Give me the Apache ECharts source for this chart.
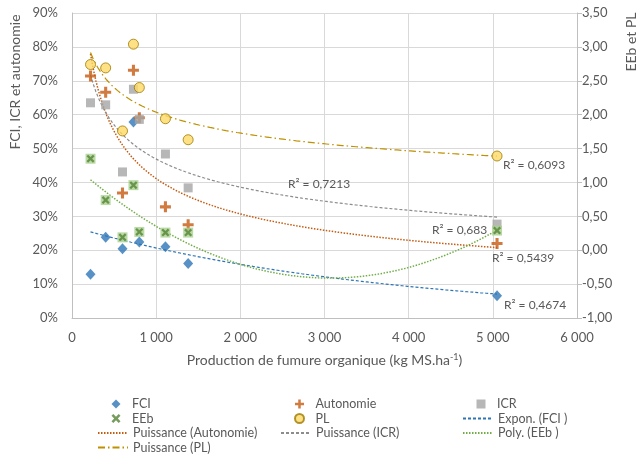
<!DOCTYPE html>
<html>
<head>
<meta charset="utf-8">
<script src="https://cdn.jsdelivr.net/npm/echarts@6/dist/echarts.min.js"></script>
<style>
  html, body { margin: 0; padding: 0; background: #fff; }
  #chart { width: 641px; height: 457px; }
</style>
</head>
<body>
<div id="chart"></div>
<script>
// production de fumure organique (kg MS/ha) for each farm
const production = [220, 400, 600, 730, 800, 1110, 1380, 5050];
// left axis (share)
const fci = [0.129, 0.238, 0.204, 0.578, 0.224, 0.210, 0.161, 0.066];
const autonomie = [0.714, 0.666, 0.369, 0.731, 0.591, 0.328, 0.275, 0.220];
const icr = [0.635, 0.629, 0.431, 0.675, 0.586, 0.484, 0.384, 0.277];
// right axis
const eeb = [1.35, 0.74, 0.19, 0.96, 0.27, 0.26, 0.26, 0.29];
const pl = [2.74, 2.69, 1.76, 3.04, 2.40, 1.94, 1.63, 1.39];

const r2Labels = ['R² = 0,7213', 'R² = 0,6093', 'R² = 0,683', 'R² = 0,5439', 'R² = 0,4674'];

const FONT = 'Lato, "Open Sans", sans-serif';
const TXT = '#595959';

// least squares helpers (same fits as the spreadsheet trendlines)
function linFit(xs, ys) {
    const n = xs.length;
    const mx = xs.reduce((s, v) => s + v, 0) / n;
    const my = ys.reduce((s, v) => s + v, 0) / n;
    let sxy = 0, sxx = 0;
    xs.forEach((x, i) => { sxy += (x - mx) * (ys[i] - my); sxx += (x - mx) * (x - mx); });
    const b = sxy / sxx;
    return [my - b * mx, b];
}
function exponFit(xs, ys) {
    const [a, b] = linFit(xs, ys.map(Math.log));
    return x => Math.exp(a + b * x);
}
function powerFit(xs, ys) {
    const [a, b] = linFit(xs.map(Math.log), ys.map(Math.log));
    return x => Math.exp(a) * Math.pow(x, b);
}
function poly2Fit(xs, ys) {
    // normal equations for y = c0 + c1 x + c2 x^2
    const s = [0, 0, 0, 0, 0], t = [0, 0, 0];
    xs.forEach((x, i) => {
        for (let k = 0; k < 5; k++) s[k] += Math.pow(x, k);
        for (let k = 0; k < 3; k++) t[k] += ys[i] * Math.pow(x, k);
    });
    const m = [[s[0], s[1], s[2], t[0]], [s[1], s[2], s[3], t[1]], [s[2], s[3], s[4], t[2]]];
    for (let i = 0; i < 3; i++) {
        for (let j = i + 1; j < 3; j++) {
            const f = m[j][i] / m[i][i];
            for (let k = i; k < 4; k++) m[j][k] -= f * m[i][k];
        }
    }
    const c = [0, 0, 0];
    for (let i = 2; i >= 0; i--) {
        let v = m[i][3];
        for (let k = i + 1; k < 3; k++) v -= m[i][k] * c[k];
        c[i] = v / m[i][i];
    }
    return x => c[0] + c[1] * x + c[2] * x * x;
}
function curve(fn) {
    const x0 = Math.min(...production), x1 = Math.max(...production);
    const pts = [];
    for (let i = 0; i <= 150; i++) {
        const x = x0 + (x1 - x0) * i / 150;
        pts.push([x, fn(x)]);
    }
    return pts;
}
const pairs = ys => production.map((x, i) => [x, ys[i]]);

const crossPath = 'path://M3.6,0 H6.4 V3.6 H10 V6.4 H6.4 V10 H3.6 V6.4 H0 V3.6 H3.6 Z';
const xPath = 'path://M0,2 L2,0 L5,3 L8,0 L10,2 L7,5 L10,8 L8,10 L5,7 L2,10 L0,8 L3,5 Z';

const chart = echarts.init(document.getElementById('chart'));

const ROW0 = 397, PITCH = 14.5;
const legendText = { fontFamily: FONT, fontSize: 12.5, color: TXT, lineHeight: 14 };

// small legend for marker entries
function markerLegend(left, row, names) {
    return {
        orient: 'vertical', left: left, top: ROW0 + row * PITCH, padding: 0,
        itemWidth: 9, itemHeight: 9, itemGap: 0.5,
        textStyle: Object.assign({ padding: [0, 0, 0, 6.5] }, legendText),
        data: names
    };
}
// wide legend for trendline entries (hide the dot drawn on line icons)
function lineLegend(left, row, names) {
    return {
        orient: 'vertical', left: left, top: ROW0 + row * PITCH, padding: 0,
        itemWidth: 30, itemHeight: 9, itemGap: 0.5,
        textStyle: legendText,
        data: names.map(n => ({ name: n, itemStyle: { opacity: 0 } }))
    };
}

const trendLabel = (text, x, y) => ({
    type: 'text', left: x, top: y, z: 50,
    style: { text: text, fontFamily: FONT, fontSize: 12, fill: TXT }
});

const option = {
    animation: false,
    backgroundColor: '#fff',
    grid: { left: 72, right: 64, top: 13, bottom: 139 },
    legend: [
        markerLegend(111.5, 0, ['FCI', 'EEb']),
        lineLegend(97, 2, ['Puissance (Autonomie)', 'Puissance (PL)']),
        markerLegend(294, 0, ['Autonomie', 'PL']),
        lineLegend(280, 2, ['Puissance (ICR)']),
        markerLegend(476.5, 0, ['ICR']),
        lineLegend(462, 1, ['Expon. (FCI )', 'Poly. (EEb )'])
    ],
    xAxis: {
        type: 'value',
        min: 0, max: 6000, interval: 1000,
        name: 'Production de fumure organique (kg MS.ha{sup|-1})',
        nameLocation: 'middle',
        nameGap: 35,
        nameTextStyle: {
            fontFamily: FONT, fontSize: 14, color: TXT,
            rich: { sup: { fontFamily: FONT, fontSize: 9, color: TXT, verticalAlign: 'top', padding: [0, 0, 6, 0] } }
        },
        axisLine: { lineStyle: { color: '#bfbfbf' } },
        axisTick: { show: false },
        axisLabel: {
            margin: 13, fontFamily: FONT, fontSize: 13, color: TXT,
            formatter: v => String(v).replace(/\B(?=(\d{3})+(?!\d))/g, ' ')
        },
        splitLine: { show: true, lineStyle: { color: '#d9d9d9' } }
    },
    yAxis: [
        {
            type: 'value', position: 'left',
            min: 0, max: 0.9, interval: 0.1,
            axisLine: { show: true, lineStyle: { color: '#bfbfbf' } },
            axisTick: { show: false },
            axisLabel: {
                margin: 14, fontFamily: FONT, fontSize: 13, color: TXT,
                formatter: v => Math.round(v * 100) + '%'
            },
            splitLine: { lineStyle: { color: '#d9d9d9' } }
        },
        {
            type: 'value', position: 'right',
            min: -1, max: 3.5, interval: 0.5,
            axisLine: { show: true, lineStyle: { color: '#bfbfbf' } },
            axisTick: { show: true, length: 5, lineStyle: { color: '#bfbfbf' } },
            axisLabel: {
                margin: 5, fontFamily: FONT, fontSize: 13, color: TXT,
                formatter: v => v.toFixed(2).replace('.', ',')
            },
            splitLine: { show: false }
        }
    ],
    graphic: [
        {
            type: 'text', x: 15, y: 82, rotation: Math.PI / 2,
            style: { text: 'FCI, ICR et autonomie', fontFamily: FONT, fontSize: 14, fill: TXT, align: 'center', verticalAlign: 'middle' }
        },
        {
            type: 'text', x: 631, y: 42, rotation: Math.PI / 2,
            style: { text: 'EEb et PL', fontFamily: FONT, fontSize: 14, fill: TXT, align: 'center', verticalAlign: 'middle' }
        },
        trendLabel(r2Labels[0], 288, 178),
        trendLabel(r2Labels[1], 503, 159),
        trendLabel(r2Labels[2], 432, 224),
        trendLabel(r2Labels[3], 492, 252),
        trendLabel(r2Labels[4], 504, 299)
    ],
    series: [
        {
            name: 'Expon. (FCI )', type: 'line', yAxisIndex: 0, symbol: 'none', z: 3,
            itemStyle: { color: '#2e75b6' },
            lineStyle: { color: '#2e75b6', width: 1.2, type: [3, 2] },
            data: curve(exponFit(production, fci))
        },
        {
            name: 'Puissance (Autonomie)', type: 'line', yAxisIndex: 0, symbol: 'none', z: 3,
            itemStyle: { color: '#c55a11' },
            lineStyle: { color: '#c55a11', width: 1.5, type: [1.5, 1.5] },
            data: curve(powerFit(production, autonomie))
        },
        {
            name: 'Puissance (ICR)', type: 'line', yAxisIndex: 0, symbol: 'none', z: 3,
            itemStyle: { color: '#8c8c8c' },
            lineStyle: { color: '#8c8c8c', width: 1.2, type: [3, 2] },
            data: curve(powerFit(production, icr))
        },
        {
            name: 'Poly. (EEb )', type: 'line', yAxisIndex: 1, symbol: 'none', z: 3,
            itemStyle: { color: '#70ad47' },
            lineStyle: { color: '#70ad47', width: 1.5, type: [1.5, 1.5] },
            data: curve(poly2Fit(production, eeb))
        },
        {
            name: 'Puissance (PL)', type: 'line', yAxisIndex: 1, symbol: 'none', z: 3,
            itemStyle: { color: '#bf9000' },
            lineStyle: { color: '#bf9000', width: 1.2, type: [7, 3, 1.5, 3] },
            data: curve(powerFit(production, pl))
        },
        {
            name: 'FCI', type: 'scatter', yAxisIndex: 0, symbol: 'diamond', symbolSize: [10, 11], z: 4,
            itemStyle: { color: '#2e75b6' },
            data: pairs(fci)
        },
        {
            name: 'Autonomie', type: 'scatter', yAxisIndex: 0, symbol: crossPath, symbolSize: 11, z: 4,
            itemStyle: { color: '#c55a11' },
            data: pairs(autonomie)
        },
        {
            name: 'ICR', type: 'scatter', yAxisIndex: 0, symbol: 'rect', symbolSize: 9, z: 4,
            itemStyle: { color: '#a5a5a5' },
            data: pairs(icr)
        },
        {
            // light square behind the EEb crosses
            name: 'EEb fond', type: 'scatter', yAxisIndex: 1, symbol: 'rect', symbolSize: 10, z: 4,
            silent: true,
            itemStyle: { color: '#a9d18e' },
            data: pairs(eeb)
        },
        {
            name: 'EEb', type: 'scatter', yAxisIndex: 1, symbol: xPath, symbolSize: 8, z: 5,
            itemStyle: { color: '#548235' },
            data: pairs(eeb)
        },
        {
            name: 'PL', type: 'scatter', yAxisIndex: 1, symbol: 'circle', symbolSize: 10, z: 4,
            itemStyle: { color: '#ffd966', borderColor: '#9c7a00', borderWidth: 1 },
            data: pairs(pl)
        }
    ]
};

chart.setOption(option);
</script>
</body>
</html>
